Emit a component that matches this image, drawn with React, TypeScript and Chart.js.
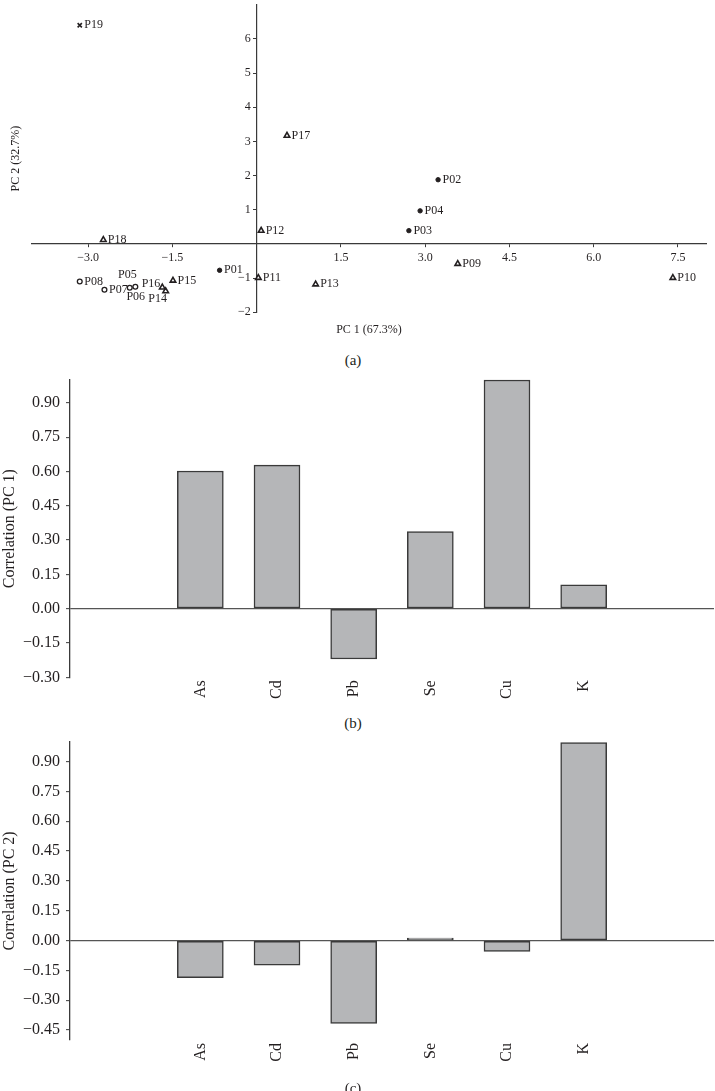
import React, { useEffect, useRef } from 'react';
import { Chart, registerables } from 'chart.js';

Chart.register(...registerables);

// ---------- Data: PCA scores (panel a) ----------
const sampleNames = ['P01', 'P02', 'P03', 'P04', 'P05', 'P06', 'P07', 'P08', 'P09', 'P10', 'P11', 'P12', 'P13', 'P14', 'P15', 'P16', 'P17', 'P18', 'P19'];
const pc1Scores = [-0.66, 3.23, 2.71, 2.91, -2.16, -2.26, -2.71, -3.15, 3.58, 7.41, 0.03, 0.08, 1.05, -1.62, -1.49, -1.68, 0.54, -2.73, -3.15];
const pc2Scores = [-0.77, 1.88, 0.39, 0.97, -1.25, -1.28, -1.34, -1.10, -0.58, -0.99, -0.99, 0.39, -1.18, -1.38, -1.07, -1.27, 3.17, 0.12, 6.40];
const sampleGroups = ['A', 'A', 'A', 'A', 'B', 'B', 'B', 'B', 'C', 'C', 'C', 'C', 'C', 'C', 'C', 'C', 'C', 'C', 'D'];
const pc1TickValues = [-3, -1.5, 1.5, 3, 4.5, 6, 7.5];
const pc2TickValues = [-2, -1, 1, 2, 3, 4, 5, 6];
const pc1Title = 'PC 1 (67.3%)';
const pc2Title = 'PC 2 (32.7%)';

// ---------- Data: loadings (panels b, c) ----------
const elements = ['As', 'Cd', 'Pb', 'Se', 'Cu', 'K'];
const pc1Loadings = [0.602, 0.628, -0.22, 0.337, 1.0, 0.104];
const pc2Loadings = [-0.186, -0.124, -0.416, 0.013, -0.054, 0.995];
const pc1LoadingTicks = [-0.3, -0.15, 0, 0.15, 0.3, 0.45, 0.6, 0.75, 0.9];
const pc2LoadingTicks = [-0.45, -0.3, -0.15, 0, 0.15, 0.3, 0.45, 0.6, 0.75, 0.9];
const pc1LoadingTitle = 'Correlation (PC 1)';
const pc2LoadingTitle = 'Correlation (PC 2)';

// ---------- Styles ----------
const FONT = '"Liberation Serif", "Times New Roman", serif';
const INK = '#231f20';
const AXIS = '#3a3a3a';
const BAR_FILL = '#b5b6b8';
const BAR_EDGE = '#3a3a3a';

const groupStyles: Record<string, any> = {
  A: { pointStyle: 'circle', pointRadius: 2.2, backgroundColor: INK, borderColor: INK, borderWidth: 1 },
  B: { pointStyle: 'circle', pointRadius: 2.4, backgroundColor: '#ffffff', borderColor: INK, borderWidth: 1.3 },
  C: { pointStyle: 'triangle', pointRadius: 3.2, backgroundColor: '#ffffff', borderColor: INK, borderWidth: 1.6 },
  D: { pointStyle: 'crossRot', pointRadius: 3, backgroundColor: INK, borderColor: INK, borderWidth: 1.6 },
};

const defaultPlacement = { dx: 4.5, dy: 0, align: 'left' };
const labelPlacement: Record<string, { dx: number; dy: number; align: string }> = {
  P05: { dx: -8, dy: -12, align: 'center' },
  P06: { dx: 6, dy: 9.5, align: 'center' },
  P16: { dx: -2, dy: -4, align: 'right' },
  P14: { dx: -8, dy: 7.5, align: 'center' },
};

const minus = (s: string) => s.replace('-', '\u2212');

const zeroPadding = (s: any) => {
  s.paddingTop = 0;
  s.paddingBottom = 0;
  s.paddingLeft = 0;
  s.paddingRight = 0;
};

const scatterTextPlugin = {
  id: 'scatterText',
  beforeDraw(chart: any) {
    // move the centred y-axis tick labels to the left of their tick marks
    const items = chart.scales.y.getLabelItems();
    items.forEach((it: any) => {
      if (!it.__shifted) {
        it.options.translation[0] -= 6;
        it.__shifted = true;
      }
    });
  },
  afterDatasetsDraw(chart: any) {
    const ctx = chart.ctx;
    const area = chart.chartArea;
    ctx.save();
    ctx.font = `12px ${FONT}`;
    ctx.fillStyle = INK;
    ctx.textBaseline = 'middle';
    chart.data.datasets.forEach((ds: any, di: number) => {
      const meta = chart.getDatasetMeta(di);
      meta.data.forEach((el: any, i: number) => {
        const name = ds.data[i].name;
        const p = labelPlacement[name] || defaultPlacement;
        ctx.textAlign = p.align;
        ctx.fillText(name, el.x + p.dx, el.y + p.dy);
      });
    });
    // axis titles
    ctx.textAlign = 'center';
    ctx.fillText(pc1Title, (area.left + area.right) / 2, area.bottom + 17.5);
    ctx.save();
    ctx.translate(area.left - 16, (area.top + area.bottom) / 2);
    ctx.rotate(-Math.PI / 2);
    ctx.fillText(pc2Title, 0, 0);
    ctx.restore();
    ctx.restore();
  },
};

function ScatterChart() {
  const ref = useRef<HTMLCanvasElement>(null);
  useEffect(() => {
    const groups = ['A', 'B', 'C', 'D'];
    const datasets = groups.map((g) => ({
      label: g,
      data: sampleNames
        .map((name, i) => ({ x: pc1Scores[i], y: pc2Scores[i], name, g: sampleGroups[i] }))
        .filter((d) => d.g === g),
      ...groupStyles[g],
      pointHoverRadius: groupStyles[g].pointRadius,
      clip: false,
    }));
    const chart = new Chart(ref.current!, {
      type: 'scatter',
      data: { datasets },
      plugins: [scatterTextPlugin],
      options: {
        responsive: false,
        animation: false,
        layout: { padding: { left: 32, right: 9, top: 0, bottom: 32.7 } },
        plugins: { legend: { display: false }, tooltip: { enabled: false } },
        scales: {
          x: {
            type: 'linear',
            min: -4,
            max: 8,
            position: { y: 0 } as any,
            afterFit: (s: any) => { s.height = 0; zeroPadding(s); },
            afterBuildTicks: (s: any) => { s.ticks = pc1TickValues.map((v) => ({ value: v })); },
            grid: { display: true, drawOnChartArea: false, drawTicks: true, tickLength: 3, tickColor: AXIS, tickWidth: 1 },
            border: { display: true, color: AXIS, width: 1.2 },
            ticks: {
              color: INK,
              font: { family: FONT, size: 12 },
              padding: 4,
              maxRotation: 0,
              autoSkip: false,
              callback: (v: any) => minus(Number(v).toFixed(1)),
            },
          },
          y: {
            type: 'linear',
            min: -2,
            max: 7,
            position: { x: 0 } as any,
            afterFit: (s: any) => { s.width = 0; zeroPadding(s); },
            afterBuildTicks: (s: any) => { s.ticks = pc2TickValues.map((v) => ({ value: v })); },
            grid: { display: true, drawOnChartArea: false, drawTicks: true, tickLength: 3, tickColor: AXIS, tickWidth: 1 },
            border: { display: true, color: AXIS, width: 1.2 },
            ticks: {
              color: INK,
              font: { family: FONT, size: 12 },
              padding: 3,
              autoSkip: false,
              callback: (v: any) => minus(String(Math.round(Number(v)))),
            },
          },
        },
      },
    } as any);
    return () => chart.destroy();
  }, []);
  return <canvas ref={ref} width={715} height={345} style={{ display: 'block' }} />;
}

function LoadingChart(props: {
  values: number[];
  ticks: number[];
  yMin: number;
  yMax: number;
  title: string;
  height: number;
  padTop: number;
  xAxisHeight: number;
}) {
  const ref = useRef<HTMLCanvasElement>(null);
  useEffect(() => {
    const { values, ticks, yMin, yMax, title, padTop, xAxisHeight } = props;
    const chart = new Chart(ref.current!, {
      type: 'bar',
      data: {
        datasets: [
          {
            data: elements.map((e, i) => ({ x: i + 1, y: values[i] })),
            backgroundColor: BAR_FILL,
            borderColor: BAR_EDGE,
            borderWidth: 1.5,
            barThickness: 46,
            borderSkipped: false,
            clip: false,
          },
        ],
      },
      options: {
        responsive: false,
        animation: false,
        layout: { padding: { left: 0, right: 1, top: padTop, bottom: 0 } },
        plugins: { legend: { display: false }, tooltip: { enabled: false } },
        scales: {
          x: {
            type: 'linear',
            min: 0,
            max: elements.length + 1,
            afterFit: (s: any) => { s.height = xAxisHeight; zeroPadding(s); },
            afterBuildTicks: (s: any) => { s.ticks = elements.map((e, i) => ({ value: i + 1 })); },
            grid: { display: false, drawTicks: false },
            border: { display: false },
            ticks: {
              color: INK,
              font: { family: FONT, size: 16 },
              padding: 3,
              minRotation: 90,
              maxRotation: 90,
              autoSkip: false,
              callback: (v: any) => elements[Math.round(Number(v)) - 1] ?? '',
            },
          },
          y: {
            type: 'linear',
            min: yMin,
            max: yMax,
            afterFit: (s: any) => { s.width = 70; zeroPadding(s); },
            afterBuildTicks: (s: any) => { s.ticks = ticks.map((v) => ({ value: v })); },
            grid: {
              display: true,
              drawOnChartArea: true,
              drawTicks: true,
              tickLength: 4,
              tickColor: AXIS,
              tickWidth: 1,
              color: (c: any) => (c.tick && Math.abs(c.tick.value) < 1e-9 ? '#555555' : 'rgba(0,0,0,0)'),
              lineWidth: 1.3,
            },
            border: { display: true, color: AXIS, width: 1.3 },
            title: {
              display: true,
              text: title,
              color: INK,
              font: { family: FONT, size: 16, lineHeight: 1.2 },
              padding: { top: 0, bottom: 0 },
            },
            ticks: {
              color: INK,
              font: { family: FONT, size: 16 },
              padding: 6,
              autoSkip: false,
              callback: (v: any) => {
                const n = Number(v);
                return n < -1e-9 ? '\u2212' + Math.abs(n).toFixed(2) : Math.abs(n).toFixed(2);
              },
            },
          },
        },
      },
    } as any);
    return () => chart.destroy();
  }, []);
  return <canvas ref={ref} width={715} height={props.height} style={{ display: 'block' }} />;
}

const captionStyle = (top: number): React.CSSProperties => ({
  position: 'absolute',
  left: 353,
  top,
  transform: 'translateX(-50%)',
  fontFamily: FONT,
  fontSize: 15,
  lineHeight: '15px',
  color: INK,
  whiteSpace: 'nowrap',
});

export default function App() {
  return (
    <div style={{ position: 'absolute', left: 0, top: 0, width: 715, height: 1091, background: '#ffffff', overflow: 'hidden' }}>
      <div style={{ position: 'absolute', left: 0, top: 0 }}>
        <ScatterChart />
      </div>
      <div style={{ position: 'absolute', left: 0, top: 370 }}>
        <LoadingChart values={pc1Loadings} ticks={pc1LoadingTicks} yMin={-0.3} yMax={1.0} title={pc1LoadingTitle} height={345} padTop={10} xAxisHeight={37.7} />
      </div>
      <div style={{ position: 'absolute', left: 0, top: 732 }}>
        <LoadingChart values={pc2Loadings} ticks={pc2LoadingTicks} yMin={-0.5} yMax={1.0} title={pc2LoadingTitle} height={350} padTop={9.7} xAxisHeight={42} />
      </div>
      <div style={captionStyle(352.5)}>(a)</div>
      <div style={captionStyle(715.5)}>(b)</div>
      <div style={captionStyle(1080.5)}>(c)</div>
    </div>
  );
}
